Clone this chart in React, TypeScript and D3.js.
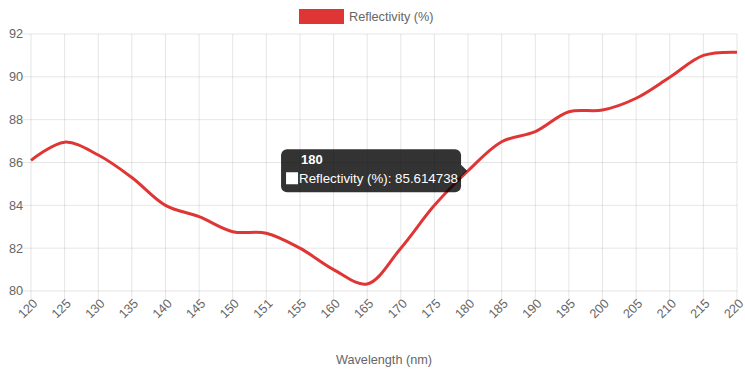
import React, { useEffect, useRef } from 'react';
import * as d3 from 'd3';

const labels = ['120', '125', '130', '135', '140', '145', '150', '151', '155', '160', '165', '170', '175', '180', '185', '190', '195', '200', '205', '210', '215', '220'];
const reflectivity = [86.1, 86.95, 86.35, 85.3, 84.0, 83.47, 82.77, 82.7, 82.0, 81.0, 80.33, 82.0, 84.0, 85.614738, 86.97, 87.44, 88.37, 88.45, 89.0, 89.98, 91.0, 91.15];
const yTicks = [80, 82, 84, 86, 88, 90, 92];

const W = 745;
const H = 372;
const FONT = '"Liberation Sans", Arial, Helvetica, sans-serif';
const RED = '#e03535';

const App = () => {
  const svgRef = useRef<SVGSVGElement | null>(null);

  useEffect(() => {
    const svg = d3.select(svgRef.current);
    svg.selectAll('*').remove();

    const left = 31, right = 737, top = 34, bottom = 291;

    const x = d3.scalePoint<string>().domain(labels).range([left, right]);
    const y = d3.scaleLinear().domain([80, 92]).range([bottom, top]);

    // grid
    const grid = svg.append('g');
    grid.selectAll('line.v')
      .data(labels)
      .join('line')
      .attr('x1', d => x(d)!).attr('x2', d => x(d)!)
      .attr('y1', top).attr('y2', bottom + 9)
      .attr('stroke', 'rgba(0,0,0,0.1)');
    grid.selectAll('line.h')
      .data(yTicks)
      .join('line')
      .attr('x1', left - 9).attr('x2', right)
      .attr('y1', d => y(d)).attr('y2', d => y(d))
      .attr('stroke', 'rgba(0,0,0,0.1)');

    // y tick labels
    svg.append('g')
      .selectAll('text')
      .data(yTicks)
      .join('text')
      .attr('x', left - 8)
      .attr('y', d => y(d))
      .attr('dy', '0.35em')
      .attr('text-anchor', 'end')
      .style('font', `12.7px ${FONT}`)
      .attr('fill', '#666')
      .text(d => d);

    // x tick labels, rotated
    svg.append('g')
      .selectAll('text')
      .data(labels)
      .join('text')
      .attr('transform', d => `translate(${x(d)! + 4},${bottom + 10}) rotate(-45)`)
      .attr('text-anchor', 'end')
      .attr('dy', '0.35em')
      .style('font', `12.7px ${FONT}`)
      .attr('fill', '#666')
      .text(d => d);

    // axis title
    svg.append('text')
      .attr('x', (left + right) / 2)
      .attr('y', 364)
      .attr('text-anchor', 'middle')
      .style('font', `12.7px ${FONT}`)
      .attr('fill', '#666')
      .text('Wavelength (nm)');

    // legend
    svg.append('rect')
      .attr('x', 299).attr('y', 9).attr('width', 45).attr('height', 15)
      .attr('fill', RED);
    svg.append('text')
      .attr('x', 349).attr('y', 17).attr('dy', '0.35em')
      .style('font', `12.7px ${FONT}`)
      .attr('fill', '#666')
      .text('Reflectivity (%)');

    // line
    const line = d3.line<number>()
      .x((_, i) => x(labels[i])!)
      .y(d => y(d))
      .curve(d3.curveCatmullRom.alpha(0.5));

    svg.append('path')
      .datum(reflectivity)
      .attr('d', line)
      .attr('fill', 'none')
      .attr('stroke', RED)
      .attr('stroke-width', 3);

    // tooltip at 180
    const idx = labels.indexOf('180');
    const px = x(labels[idx])!;
    const py = y(reflectivity[idx]);
    const tw = 180, th = 43;
    const bx = px - 7 - tw;
    const by = py - th / 2;
    const tip = svg.append('g');
    tip.append('rect')
      .attr('x', bx).attr('y', by).attr('width', tw).attr('height', th)
      .attr('rx', 6)
      .attr('fill', 'rgba(0,0,0,0.8)');
    tip.append('path')
      .attr('d', `M${bx + tw},${py - 6} L${bx + tw + 6},${py} L${bx + tw},${py + 6} Z`)
      .attr('fill', 'rgba(0,0,0,0.8)');
    tip.append('text')
      .attr('x', bx + 20).attr('y', by + 10).attr('dy', '0.35em')
      .style('font', `bold 13px ${FONT}`)
      .attr('fill', '#fff')
      .text(labels[idx]);
    tip.append('rect')
      .attr('x', bx + 5).attr('y', by + 23).attr('width', 12).attr('height', 12)
      .attr('fill', '#fff');
    tip.append('text')
      .attr('x', bx + 18).attr('y', by + 29).attr('dy', '0.35em')
      .style('font', `13.3px ${FONT}`)
      .attr('fill', '#fff')
      .text(`Reflectivity (%): ${reflectivity[idx]}`);
  }, []);

  return (
    <svg
      ref={svgRef}
      width={W}
      height={H}
      style={{ position: 'absolute', left: 0, top: 0, background: '#fff' }}
    />
  );
};

export default App;
